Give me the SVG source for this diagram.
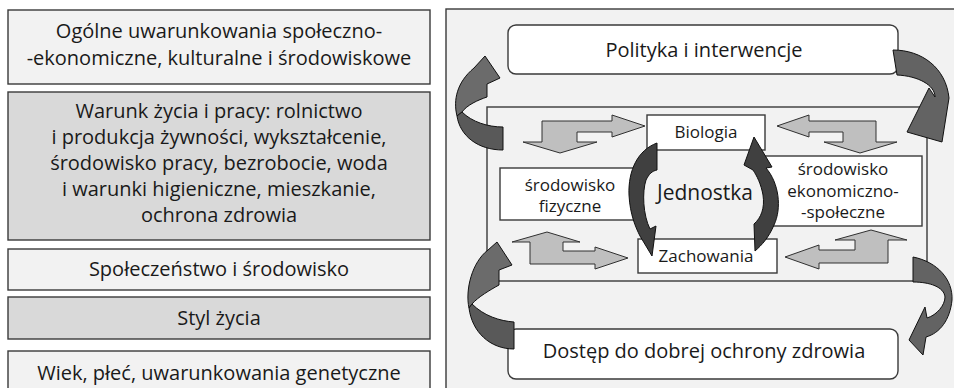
<svg xmlns="http://www.w3.org/2000/svg" width="954" height="388" viewBox="0 0 954 388">
<style>
text{font-family:"Open Sans","Noto Sans","Liberation Sans",sans-serif;fill:#1a1a1a;text-anchor:middle}
.big{font-size:20px}
.sm{font-size:17px}
.lb{stroke:#3a3a3a;stroke-width:1.4}
.l1{fill:#f2f2f2}
.l2{fill:#d9d9d9}
.wb{fill:#ffffff;stroke:#3a3a3a;stroke-width:1.4}
.ga{fill:#bfbfbf;stroke:#303030;stroke-width:1;stroke-linejoin:miter}
.ca{stroke:#111;stroke-width:1;stroke-linejoin:round}
</style>
<rect x="0" y="0" width="954" height="388" fill="#ffffff"/>
<g id="left-1"><rect class="lb l1" x="8" y="10" width="422" height="74"/><text class="big" x="219" y="38">Ogólne uwarunkowania społeczno-</text><text class="big" x="219" y="65">-ekonomiczne, kulturalne i środowiskowe</text></g>
<g id="left-2"><rect class="lb l2" x="8" y="92" width="422" height="148"/><text class="big" x="219" y="118">Warunk życia i pracy: rolnictwo</text><text class="big" x="219" y="144">i produkcja żywności, wykształcenie,</text><text class="big" x="219" y="170">środowisko pracy, bezrobocie, woda</text><text class="big" x="219" y="196">i warunki higieniczne, mieszkanie,</text><text class="big" x="219" y="222">ochrona zdrowia</text></g>
<g id="left-3"><rect class="lb l1" x="8" y="249" width="422" height="41"/><text class="big" x="219" y="276">Społeczeństwo i środowisko</text></g>
<g id="left-4"><rect class="lb l2" x="8" y="297" width="422" height="42"/><text class="big" x="219" y="325">Styl życia</text></g>
<g id="left-5"><rect class="lb l1" x="8" y="351" width="422" height="45"/><text class="big" x="219" y="380">Wiek, płeć, uwarunkowania genetyczne</text></g>
<g id="panel"><rect class="lb l1" x="446" y="9" width="520" height="390"/><rect class="lb l1" x="487" y="107" width="440" height="174"/></g>
<g id="polityka"><rect class="wb" x="508" y="25" width="390" height="49" rx="8"/><text class="big" x="704" y="57">Polityka i interwencje</text></g>
<g id="dostep"><rect class="wb" x="508" y="329" width="390" height="50" rx="8"/><text class="big" x="704" y="358">Dostęp do dobrej ochrony zdrowia</text></g>
<g id="biologia"><rect class="wb" x="647" y="115" width="118" height="35"/><text class="sm" x="706" y="138">Biologia</text></g>
<g id="fizyczne"><rect class="wb" x="500" y="168" width="140" height="52"/><text class="sm" x="570" y="191">środowisko</text><text class="sm" x="570" y="212">fizyczne</text></g>
<g id="ekonomiczne"><rect class="wb" x="765" y="156" width="157" height="70"/><text class="sm" x="843" y="175">środowisko</text><text class="sm" x="843" y="197">ekonomiczno-</text><text class="sm" x="843" y="218">-społeczne</text></g>
<g id="zachowania"><rect class="wb" x="638" y="239" width="139" height="34"/><text class="sm" x="706" y="262">Zachowania</text></g>
<g id="jednostka"><text x="705" y="200" style="font-size:21px">Jednostka</text></g>
<g id="connectors">
<polygon class="ga" points="645,126 612,115 612,121 542,121 542,142 523,142 560,153 597,142 577,142 577,132 612,132 612,137"/>
<polygon class="ga" points="777,126 809,115 809,121 876,121 876,142 897,142 860,153 824,142 843,142 843,132 809,132 809,137"/>
<polygon class="ga" points="628,258 595,247 595,251 563,251 563,242 580,242 547,232 512,242 530,242 530,264 595,264 595,269"/>
<polygon class="ga" points="785,257 819,245 819,250 855,250 855,240 835,240 871,230 907,240 888,240 888,263 819,263 819,269"/>
<path class="ca" fill="#6b6b6b" d="M485,56 L500,78 L487,84 L487,97 C478,100 467,105 462,112 L457,116 C453,100 457,82 474,68 Z"/>
<path class="ca" fill="#595959" d="M462,112 C472,122 488,127 503,127 L503,150 C478,150 460,136 457,116 Z"/>
<path class="ca" fill="#6b6b6b" d="M497,242 L512,265 L499,270 L499,285 C490,290 478,297 472,304 L469,308 C465,290 472,262 488,250 Z"/>
<path class="ca" fill="#595959" d="M472,304 C484,316 500,321 514,322 L514,349 C490,349 472,332 469,308 Z"/>
<path class="ca" fill="#636363" d="M893,50 C922,50 946,68 949,98 L942,142 L907,132 L929,88 L935,97 C935,85 918,76 897,75 Z"/>
<path class="ca" fill="#636363" d="M913,257 C938,262 953,280 952,300 C950,320 940,333 926,337 L923,355 L909,340 L925,307 L927,318 C937,315 945,305 945,297 C944,287 930,282 913,282 Z"/>
<path class="ca" fill="#404040" d="M657,143 C638,150 628,170 629,195 C630,215 636,228 640,236 L652,256 L656,226 L650,229 C643,215 642,192 646,180 C649,174 652,171 657,170 Z"/>
<path class="ca" fill="#404040" d="M754,137 L772,167 L766,168 C779,183 782,208 774,225 C769,237 762,245 755,251 L754,224 C761,218 765,208 763,195 C761,184 757,176 753,170 L744,165 Z"/>
</g>
</svg>
